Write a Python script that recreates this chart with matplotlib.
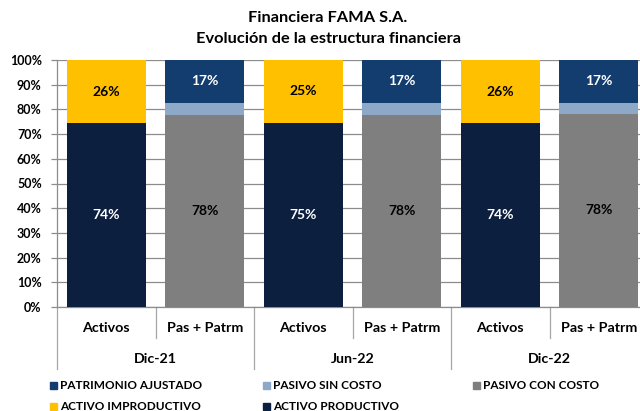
import matplotlib
matplotlib.use("Agg")
import matplotlib.pyplot as plt
import matplotlib.transforms as mtransforms
from matplotlib.patches import Rectangle
import numpy as np

plt.rcParams['font.family'] = ['Lato', 'DejaVu Sans']

# ---- data ----
periods = ["Dic-21", "Jun-22", "Dic-22"]
subcats = ["Activos", "Pas + Patrm"]
activo_productivo = [74.4, 74.6, 74.4]
activo_improductivo = [25.6, 25.4, 25.6]
pasivo_con_costo = [77.7, 77.6, 78.3]
pasivo_sin_costo = [4.9, 5.0, 4.3]
patrimonio_ajustado = [17.4, 17.4, 17.4]
yticks = [0, 10, 20, 30, 40, 50, 60, 70, 80, 90, 100]

c_prod = "#0C1F3F"
c_improd = "#FFC000"
c_pcc = "#7F7F7F"
c_psc = "#8EA9C8"
c_pat = "#123D6E"

W, H = 640, 411
fig = plt.figure(figsize=(W / 100, H / 100), dpi=100)
ax = fig.add_axes([57 / W, 1 - 307 / H, 591 / W, 247 / H])

n = len(periods)
x_act = np.arange(n) * 2
x_pas = np.arange(n) * 2 + 1
bw = 0.8

def lab(x, bottom, val, color):
    ax.text(x, bottom + val / 2, f"{round(val):d}%", ha="center", va="center",
            color=color, fontsize=10, fontweight="bold", zorder=5)

ax.bar(x_act, activo_productivo, bw, color=c_prod, zorder=3)
ax.bar(x_act, activo_improductivo, bw, bottom=activo_productivo, color=c_improd, zorder=3)
b2 = np.array(pasivo_con_costo) + np.array(pasivo_sin_costo)
ax.bar(x_pas, pasivo_con_costo, bw, color=c_pcc, zorder=3)
ax.bar(x_pas, pasivo_sin_costo, bw, bottom=pasivo_con_costo, color=c_psc, zorder=3)
ax.bar(x_pas, patrimonio_ajustado, bw, bottom=b2, color=c_pat, zorder=3)

for i in range(n):
    lab(x_act[i], 0, activo_productivo[i], "white")
    lab(x_act[i], activo_productivo[i], activo_improductivo[i], "black")
    lab(x_pas[i], 0, pasivo_con_costo[i], "black")
    lab(x_pas[i], b2[i], patrimonio_ajustado[i], "white")

ax.set_xlim(-0.5, 2 * n - 0.5)
ax.set_ylim(0, 100)
ax.set_yticks(yticks)
ax.set_yticklabels([f"{v}%" for v in yticks], fontsize=9, fontweight="bold")
ax.yaxis.grid(True, color="#8C8C8C", linewidth=0.9, zorder=0)
ax.set_axisbelow(True)
ax.tick_params(axis="y", length=4, width=0.9, color="#8C8C8C", pad=7)
ax.set_xticks([])
for s in ["top", "right"]:
    ax.spines[s].set_visible(False)
ax.spines["left"].set_color("#8C8C8C")
ax.spines["bottom"].set_color("#8C8C8C")
ax.spines["left"].set_linewidth(0.9)
ax.spines["bottom"].set_linewidth(0.9)

# multi-level category axis
tr = mtransforms.blended_transform_factory(ax.transData, ax.transAxes)
sep_col = "#A6A6A6"
for i in range(n + 1):
    xb = 2 * i - 0.5
    ax.plot([xb, xb], [0, -0.251], transform=tr, color=sep_col, lw=0.9, clip_on=False)
for i in range(n):
    xb = 2 * i + 0.5
    ax.plot([xb, xb], [0, -0.1255], transform=tr, color=sep_col, lw=0.9, clip_on=False)
    ax.text(x_act[i], -0.085, subcats[0], transform=tr, ha="center", va="center",
            fontsize=10.3, fontweight="bold")
    ax.text(x_pas[i], -0.085, subcats[1], transform=tr, ha="center", va="center",
            fontsize=10.3, fontweight="bold")
    ax.text(2 * i + 0.5, -0.2105, periods[i], transform=tr, ha="center", va="center",
            fontsize=10.3, fontweight="bold")

# title
fig.text(328 / W, 1 - 18 / H, "Financiera FAMA S.A.", ha="center", va="center",
         fontsize=11.8, fontweight="bold")
fig.text(328 / W, 1 - 39 / H, "Evolución de la estructura financiera", ha="center",
         va="center", fontsize=11.8, fontweight="bold")

# legend
legend_items = [("PATRIMONIO AJUSTADO", c_pat), ("PASIVO SIN COSTO", c_psc),
                ("PASIVO CON COSTO", c_pcc), ("ACTIVO IMPRODUCTIVO", c_improd),
                ("ACTIVO PRODUCTIVO", c_prod)]
col_x = [50, 263, 473]
row_y = [385, 406]
for k, (name, col) in enumerate(legend_items):
    cx = col_x[k % 3]
    ry = row_y[k // 3]
    fig.patches.append(Rectangle((cx / W, 1 - (ry + 3.5) / H), 7 / W, 7 / H,
                                 transform=fig.transFigure, color=col, figure=fig))
    fig.text((cx + 10) / W, 1 - ry / H, name, ha="left", va="center",
             fontsize=8.5, fontweight="bold")

fig.savefig("out.png", dpi=100)
